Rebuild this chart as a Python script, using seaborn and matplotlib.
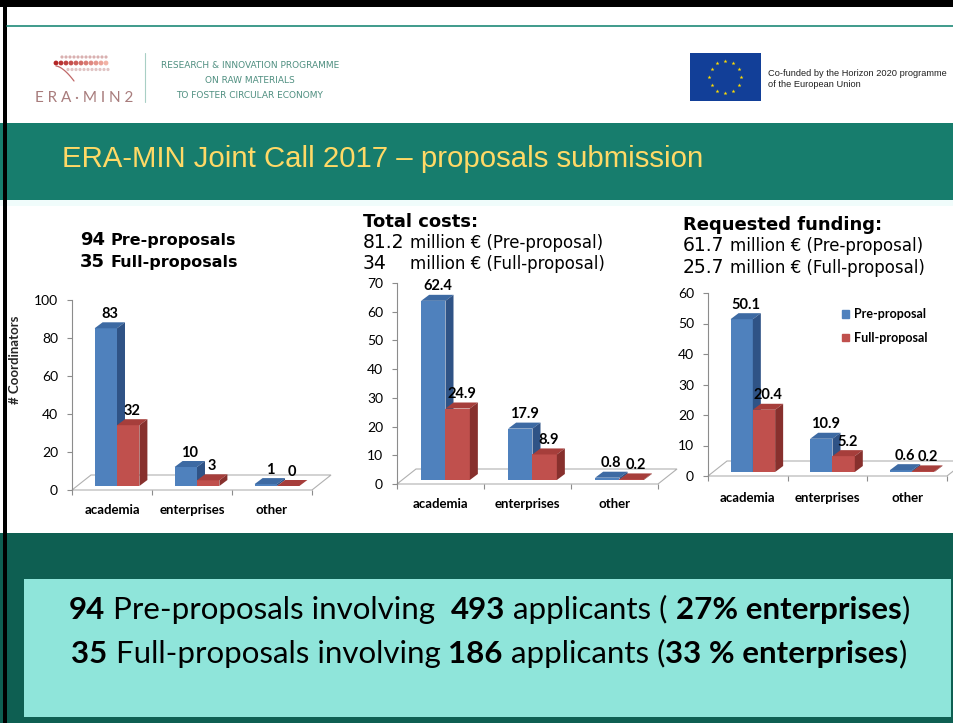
import matplotlib
matplotlib.use("Agg")
import matplotlib.pyplot as plt
import seaborn as sns
import pandas as pd
import numpy as np
from matplotlib.patches import Rectangle, Polygon, Circle

# ---------------- data ----------------
categories = ["academia", "enterprises", "other"]
series_names = ["Pre-proposal", "Full-proposal"]

coordinators_pre = [83, 10, 1]
coordinators_full = [32, 3, 0]
costs_pre = [62.4, 17.9, 0.8]
costs_full = [24.9, 8.9, 0.2]
funding_pre = [50.1, 10.9, 0.6]
funding_full = [20.4, 5.2, 0.2]

coordinators_ticks = [0, 20, 40, 60, 80, 100]
costs_ticks = [0, 10, 20, 30, 40, 50, 60, 70]
funding_ticks = [0, 10, 20, 30, 40, 50, 60]

# ---------------- style ----------------
sns.set_theme(style="white")
plt.rcParams["font.family"] = ["Lato", "DejaVu Sans"]
plt.rcParams["text.color"] = "black"
plt.rcParams["xtick.color"] = "black"
plt.rcParams["ytick.color"] = "black"

BLUE, BLUE_TOP, BLUE_SIDE = "#4f81bd", "#3d6aa3", "#2f5386"
RED, RED_TOP, RED_SIDE = "#c0504d", "#a63e3b", "#87302d"
AXIS_GRAY = "#8c8c8c"

W, H = 954, 723
fig = plt.figure(figsize=(W / 100, H / 100), dpi=100)
fig.patch.set_facecolor("white")
bg = fig.add_axes([0, 0, 1, 1], zorder=0)
bg.set_xlim(0, W)
bg.set_ylim(H, 0)
bg.axis("off")
renderer = fig.canvas.get_renderer()


def rect(x, y, w, h, color, **kw):
    bg.add_patch(Rectangle((x, y), w, h, facecolor=color, edgecolor="none", **kw))


def text_width(s, size, family, weight="normal"):
    t = bg.text(0, 0, s, fontsize=size, family=family, fontweight=weight)
    w = t.get_window_extent(renderer).width
    t.remove()
    return w


def fit_size(s, target, family, weight="normal"):
    return 20.0 * target / text_width(s, 20.0, family, weight)


def runs(pieces, x, y, family, ha="left", color="black"):
    """pieces: list of (text, weight, size). y is the baseline (pixels)."""
    parts = []
    for s, wgt, sz in pieces:
        spw = text_width("a a", sz, family, wgt) - text_width("aa", sz, family, wgt)
        lead = len(s) - len(s.lstrip(" "))
        trail = len(s) - len(s.rstrip(" "))
        core = s.strip(" ")
        parts.append((core, wgt, sz, lead * spw, text_width(core, sz, family, wgt), trail * spw))
    total = sum(p[3] + p[4] + p[5] for p in parts)
    cur = x - total / 2 if ha == "center" else x
    starts = []
    for core, wgt, sz, l, c, t in parts:
        cur += l
        starts.append(cur)
        bg.text(cur, y, core, fontsize=sz, family=family, fontweight=wgt,
                color=color, ha="left", va="baseline")
        cur += c + t
    return starts


# ---------------- slide background ----------------
rect(0, 0, W, H, "white")
rect(0, 123, W, 77, "#177d6d")
rect(0, 200, W, 6, "#f0fcfb")
rect(0, 533, W, 190, "#0e5f52")
rect(24, 579, 927, 138, "#8fe5da")
rect(0, 0, W, 7, "black")
rect(3, 0, 4, H, "black")
bg.plot([7, W], [26, 26], color="#1f8a78", lw=1.2)

# ERA-MIN 2 logo
for i, x in enumerate(np.arange(56, 109, 5)):
    t = i / 10
    col = (0.70 + 0.25 * t, 0.15 + 0.55 * t, 0.15 + 0.5 * t)
    bg.add_patch(Circle((x, 63), 1.7, color=col))
for x in np.arange(62, 109, 4):
    bg.add_patch(Circle((x, 57), 0.9, color="#d9b0b0"))
for x in np.arange(68, 109, 4):
    bg.add_patch(Circle((x, 69.5), 0.9, color="#e0c4c4"))
tt = np.linspace(0, 1, 30)
bg.plot(56 + 18 * tt, 66 + 15 * tt ** 1.6, color="#c06868", lw=0.9)
runs([("E R A", "normal", 11), (" \u00b7 M I N 2", "normal", 11)], 35, 102, "Lato", color="#a87c7c")
bg.plot([145, 145], [53, 102], color="#a8cfc5", lw=0.8)
prog = ["RESEARCH & INNOVATION PROGRAMME", "ON RAW MATERIALS", "TO FOSTER CIRCULAR ECONOMY"]
psize = fit_size(prog[0], 178, ["Liberation Sans Narrow", "DejaVu Sans"])
for s, yb in zip(prog, [68.5, 83, 97.5]):
    bg.text(250, yb, s, fontsize=psize, family=["Liberation Sans Narrow", "DejaVu Sans"],
            color="#4f8f80", ha="center", va="baseline")

# EU flag
rect(690, 53, 71, 48, "#123f98")
ang = np.linspace(0, 2 * np.pi, 13)[:-1]
bg.plot(725.5 + 16 * np.cos(ang), 77 + 16 * np.sin(ang), linestyle="none",
        marker="*", markersize=3, color="#ffdd00", markeredgewidth=0)
eu1 = "Co-funded by the Horizon 2020 programme"
eusize = fit_size(eu1, 178, "Liberation Sans")
bg.text(768, 73.5, eu1, fontsize=eusize, family="Liberation Sans", color="#222222", va="center")
bg.text(768, 84.5, "of the European Union", fontsize=eusize, family="Liberation Sans",
        color="#222222", va="center")

# slide title
title = "ERA-MIN Joint Call 2017 \u2013 proposals submission"
tsize = fit_size(title, 640, "Liberation Sans")
bg.text(62, 167, title, fontsize=tsize, family="Liberation Sans", color="#ffd966", va="baseline")


# ---------------- charts ----------------
def px_rect(x0, y0, x1, y1):
    return [x0 / W, 1 - y1 / H, (x1 - x0) / W, (y1 - y0) / H]


def chart(box, pre, full, ticks, label_pad=10):
    x0, y0, x1, y1 = box
    ymax = ticks[-1]
    ax = fig.add_axes(px_rect(*box), zorder=2)
    ax.set_facecolor("none")
    df = pd.DataFrame({
        "category": categories * 2,
        "series": [series_names[0]] * 3 + [series_names[1]] * 3,
        "value": list(pre) + list(full),
    })
    sns.barplot(data=df, x="category", y="value", hue="series", order=categories,
                hue_order=series_names, palette=[BLUE, RED], width=0.56, saturation=1,
                errorbar=None, legend=False, ax=ax, linewidth=0)
    ax.set_xlim(-0.5, 2.5)
    ax.set_ylim(0, ymax)
    sx = (x1 - x0) / 3.0
    sy = (y1 - y0) / ymax
    dxu = lambda p: p / sx
    dyu = lambda p: p / sy

    bars = list(ax.patches)
    fx, fy = dxu(19), dyu(15)
    ax.add_patch(Polygon([(-0.5, 0), (2.5, 0), (2.5 + fx, fy), (-0.5 + fx, fy)], closed=True,
                         facecolor="white", edgecolor="#b0b0b0", lw=0.8, zorder=0.5, clip_on=False))
    bx, by = dxu(5), dyu(4)
    ddx, ddy = dxu(8), dyu(6)
    blue_rgb = np.array(matplotlib.colors.to_rgb(BLUE))
    for p in bars:
        is_blue = np.allclose(np.array(p.get_facecolor()[:3]), blue_rgb, atol=0.02)
        top_c, side_c = (BLUE_TOP, BLUE_SIDE) if is_blue else (RED_TOP, RED_SIDE)
        z = 2 if is_blue else 4
        x = p.get_x() + bx
        w = p.get_width()
        h = p.get_height()
        p.set_x(x)
        p.set_y(by)
        p.set_zorder(z)
        top = by + h
        ax.add_patch(Polygon([(x, top), (x + w, top), (x + w + ddx, top + ddy), (x + ddx, top + ddy)],
                             closed=True, facecolor=top_c, edgecolor="none", zorder=z + 0.5, clip_on=False))
        ax.add_patch(Polygon([(x + w, by), (x + w + ddx, by + ddy), (x + w + ddx, top + ddy), (x + w, top)],
                             closed=True, facecolor=side_c, edgecolor="none", zorder=z + 0.5, clip_on=False))
        ax.text(x + w / 2 + ddx / 2, top + ddy + dyu(1.5), f"{h:g}", ha="center", va="bottom",
                fontsize=10.5, fontweight="bold", family="Lato", zorder=6, clip_on=False)

    for side in ["top", "right", "bottom"]:
        ax.spines[side].set_visible(False)
    ax.spines["left"].set_color(AXIS_GRAY)
    ax.spines["left"].set_linewidth(0.8)
    ax.set_yticks(ticks)
    ax.set_yticklabels([str(t) for t in ticks], family="Lato", fontsize=10)
    ax.tick_params(axis="y", which="major", left=True, length=3.5, width=0.8, color=AXIS_GRAY,
                   pad=6.5, direction="out")
    ax.set_xticks(range(3))
    ax.set_xticklabels(categories, fontweight="bold", family="Lato", fontsize=9.5)
    ax.tick_params(axis="x", which="major", length=0, pad=label_pad)
    ax.set_xticks([-0.5, 0.5, 1.5, 2.5], minor=True)
    ax.tick_params(axis="x", which="minor", bottom=True, length=3.5, width=0.8, color=AXIS_GRAY,
                   direction="out")
    ax.set_xlabel("")
    ax.set_ylabel("")
    return ax


ax1 = chart((72, 300, 312, 490), coordinators_pre, coordinators_full, coordinators_ticks, label_pad=10)
ax1.set_ylabel("# Coordinators", fontweight="bold", fontsize=9.5, family="Lato")
ax1.yaxis.set_label_coords((21 - 72) / 240, (490 - 360) / 190)

ax2 = chart((397, 283, 658, 484), costs_pre, costs_full, costs_ticks, label_pad=10)
ax3 = chart((708, 293, 947, 476), funding_pre, funding_full, funding_ticks, label_pad=11.5)

handles = [Rectangle((0, 0), 1, 1, color=BLUE), Rectangle((0, 0), 1, 1, color=RED)]
ax3.legend(handles, series_names, loc="upper left",
           bbox_to_anchor=((842 - 708) / 239, (476 - 308) / 183), frameon=False,
           prop=dict(family="Lato", weight="bold", size=9), handlelength=0.6, handleheight=0.6,
           handletextpad=0.4, labelspacing=0.95, borderaxespad=0, borderpad=0)

# chart headings
DV = "DejaVu Sans"
runs([("94", "bold", 13), (" Pre-proposals", "bold", 11.5)], 80, 245, DV)
runs([("35", "bold", 13), (" Full-proposals", "bold", 11.5)], 80, 267, DV)

bg.text(363, 227, "Total costs:", fontsize=13, fontweight="bold", family=DV, va="baseline")
st = runs([("81.2", "normal", 13.5), (" million \u20ac (Pre-proposal)", "normal", 12)], 363, 248, DV)
bg.text(363, 269, "34", fontsize=13.5, family=DV, va="baseline")
bg.text(st[1], 269, "million \u20ac (Full-proposal)", fontsize=12, family=DV, va="baseline")

bg.text(683, 230, "Requested funding:", fontsize=13, fontweight="bold", family=DV, va="baseline")
runs([("61.7", "normal", 13.5), (" million \u20ac (Pre-proposal)", "normal", 12)], 683, 251, DV)
runs([("25.7", "normal", 13.5), (" million \u20ac (Full-proposal)", "normal", 12)], 683, 273, DV)

# bottom summary
line1 = [("94", "bold"), (" Pre-proposals involving  ", "normal"), ("493", "bold"),
         (" applicants ( ", "normal"), ("27% enterprises", "bold"), (")", "normal")]
line2 = [("35", "bold"), (" Full-proposals involving ", "normal"), ("186", "bold"),
         (" applicants (", "normal"), ("33 % enterprises", "bold"), (")", "normal")]
w20 = sum(text_width(s, 20, "Lato", wgt) for s, wgt in line1)
bsize = 20.0 * 842 / w20
runs([(s, wgt, bsize) for s, wgt in line1], 489, 619, "Lato", ha="center")
runs([(s, wgt, bsize) for s, wgt in line2], 489, 663, "Lato", ha="center")

fig.savefig("out.png", dpi=100, facecolor=fig.get_facecolor())
